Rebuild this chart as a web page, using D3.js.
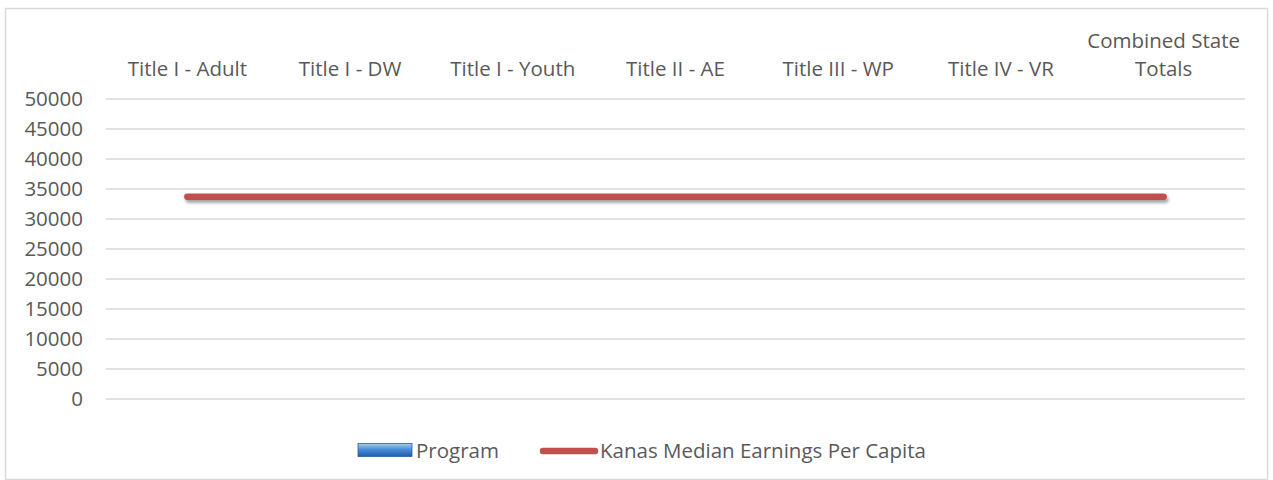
<!DOCTYPE html>
<html>
<head>
<meta charset="utf-8">
<script src="https://cdn.jsdelivr.net/npm/d3@7"></script>
<style>
  body { margin: 0; background: #fff; }
  text { font-family: "Open Sans", sans-serif; fill: #595959; }
</style>
</head>
<body>
<div id="chart"></div>
<script>
// Chart data
var categories = ["Title I - Adult", "Title I - DW", "Title I - Youth", "Title II - AE",
                  "Title III - WP", "Title IV - VR", "Combined State Totals"];
var programValues = [null, null, null, null, null, null, null];
var medianEarnings = [33700, 33700, 33700, 33700, 33700, 33700, 33700];
var yTicks = [0, 5000, 10000, 15000, 20000, 25000, 30000, 35000, 40000, 45000, 50000];
var seriesNames = ["Program", "Kanas Median Earnings Per Capita"];

var W = 1273, H = 480;
var FS = "20.5px";
var margin = {top: 99, right: 28, bottom: 81, left: 106},
    width = W - margin.left - margin.right,
    height = H - margin.top - margin.bottom;

var svg = d3.select("#chart")
  .append("svg")
  .attr("width", W)
  .attr("height", H);

// outer chart border
svg.append("rect")
  .attr("x", 5.5).attr("y", 8.5)
  .attr("width", W - 11).attr("height", H - 9)
  .attr("fill", "none")
  .attr("stroke", "#d9d9d9")
  .attr("stroke-width", 1.5);

var defs = svg.append("defs");
var grad = defs.append("linearGradient")
  .attr("id", "progGrad").attr("x1", 0).attr("y1", 0).attr("x2", 0).attr("y2", 1);
grad.append("stop").attr("offset", "0%").attr("stop-color", "#a9cdf2");
grad.append("stop").attr("offset", "45%").attr("stop-color", "#4a8fdc");
grad.append("stop").attr("offset", "100%").attr("stop-color", "#1d5ca6");

var shadow = defs.append("filter").attr("id", "shadow")
  .attr("filterUnits", "userSpaceOnUse")
  .attr("x", 0).attr("y", 0).attr("width", W).attr("height", H);
shadow.append("feDropShadow")
  .attr("dx", 1.5).attr("dy", 3).attr("stdDeviation", 1.8)
  .attr("flood-color", "#000").attr("flood-opacity", 0.35);

var g = svg.append("g")
  .attr("transform", "translate(" + margin.left + "," + margin.top + ")");

var x = d3.scaleBand()
  .domain(categories)
  .range([0, width]);

var y = d3.scaleLinear()
  .domain([0, 50000])
  .range([height, 0]);

// gridlines
g.append("g")
  .selectAll("line")
  .data(yTicks)
  .join("line")
  .attr("x1", 0).attr("x2", width)
  .attr("y1", function(d) { return y(d); })
  .attr("y2", function(d) { return y(d); })
  .attr("stroke", "#d9d9d9")
  .attr("stroke-width", 1.3);

// y axis labels
var yAxis = d3.axisLeft(y).tickValues(yTicks).tickFormat(d3.format("d"))
  .tickSize(0).tickPadding(23);
g.append("g")
  .attr("class", "y axis")
  .call(yAxis)
  .call(function(s) {
    s.select(".domain").remove();
    s.selectAll("text").style("font-size", FS).attr("fill", "#595959")
      .style("font-family", "'Open Sans', sans-serif");
  });

// category labels along the top
var xAxis = d3.axisTop(x).tickSize(0).tickPadding(0);
var xg = g.append("g")
  .attr("class", "x axis")
  .attr("transform", "translate(0,-23)")
  .call(xAxis);
xg.select(".domain").remove();
xg.selectAll("text")
  .style("font-size", FS)
  .attr("fill", "#595959")
  .style("font-family", "'Open Sans', sans-serif")
  .attr("dy", 0)
  .each(function(d) {
    var t = d3.select(this);
    if (d === "Combined State Totals") {
      t.text(null);
      t.append("tspan").attr("x", 0).attr("dy", "-1.36em").text("Combined State");
      t.append("tspan").attr("x", 0).attr("dy", "1.36em").text("Totals");
    }
  });

// program bars (no values)
g.append("g")
  .selectAll("rect")
  .data(categories.map(function(c, i) { return {c: c, v: programValues[i]}; })
    .filter(function(d) { return d.v != null; }))
  .join("rect")
  .attr("x", function(d) { return x(d.c) + x.bandwidth() * 0.2; })
  .attr("width", x.bandwidth() * 0.6)
  .attr("y", function(d) { return y(d.v); })
  .attr("height", function(d) { return height - y(d.v); })
  .attr("fill", "url(#progGrad)");

// median earnings line
var line = d3.line()
  .x(function(d, i) { return x(categories[i]) + x.bandwidth() / 2; })
  .y(function(d) { return y(d); });

g.append("path")
  .datum(medianEarnings)
  .attr("d", line)
  .attr("fill", "none")
  .attr("stroke", "#c0504d")
  .attr("stroke-width", 6.5)
  .attr("stroke-linecap", "round")
  .attr("filter", "url(#shadow)");

// legend
var leg = svg.append("g").attr("transform", "translate(0,450)");
leg.append("rect")
  .attr("x", 358).attr("y", -6.5)
  .attr("width", 54).attr("height", 13)
  .attr("fill", "url(#progGrad)")
  .attr("stroke", "#2a5f9e").attr("stroke-width", 0.8);
leg.append("text")
  .attr("x", 416).attr("y", 8)
  .style("font-size", FS)
  .text(seriesNames[0]);
leg.append("line")
  .attr("x1", 543).attr("x2", 595)
  .attr("y1", 1).attr("y2", 1)
  .attr("stroke", "#c0504d")
  .attr("stroke-width", 6.5)
  .attr("stroke-linecap", "round");
leg.append("text")
  .attr("x", 600).attr("y", 8)
  .style("font-size", FS)
  .text(seriesNames[1]);
</script>
</body>
</html>
